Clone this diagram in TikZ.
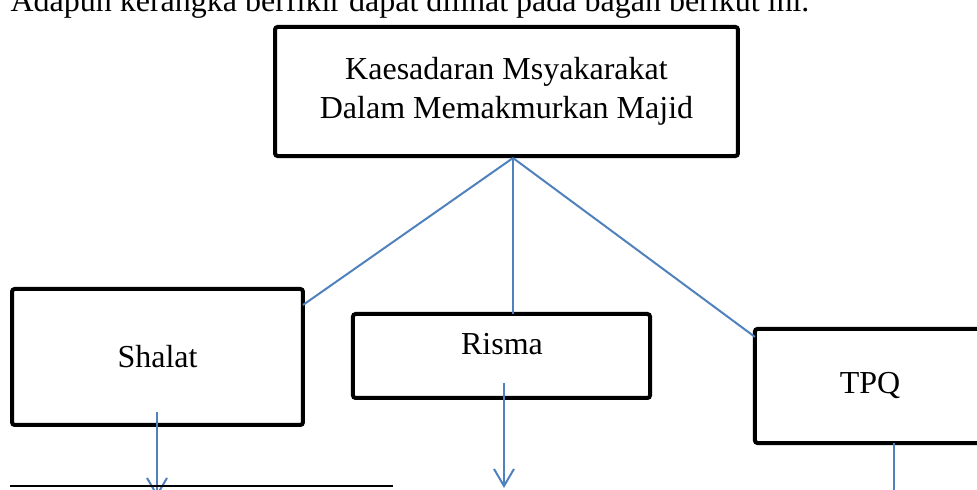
\documentclass[tikz,border=0pt]{standalone}
\usepackage{fontspec}
\setmainfont{Liberation Serif}
\usetikzlibrary{arrows.meta}
\definecolor{linkblue}{HTML}{4F81BD}

\begin{document}
\begin{tikzpicture}[x=0.375pt, y=-0.375pt,
    box/.style={draw, line width=1.5pt, rounded corners=1pt, inner sep=0pt, outer sep=0pt,
        font=\fontsize{12}{14.6}\selectfont, align=center},
    lbl/.style={font=\fontsize{12}{14.6}\selectfont, inner sep=0pt},
    link/.style={draw=linkblue, line width=0.75pt},
    arr/.style={link, -{Straight Barb[length=6.4pt, width=7.5pt]}}]

    % Page frame
    \useasboundingbox (0,0) rectangle (977,490);
    \clip (0,0) rectangle (977,490);

    % Sentence above the chart
    \node[lbl, anchor=base west] (intro) at (10,12)
        {Adapun kerangka berfikir dapat dilihat pada bagan berikut ini.};

    % Main box
    \node[box, minimum width=173.6pt, minimum height=48.4pt] (kesadaran) at (506.5,91.5)
        {Kaesadaran Msyakarakat\\Dalam Memakmurkan Majid};

    % Left box
    \node[box, minimum width=109.1pt, minimum height=51pt] (shalat) at (157.5,357) {Shalat};

    % Middle box
    \node[box, minimum width=111.4pt, minimum height=31.5pt] (risma) at (501.5,356) {};
    \node[lbl] (rismatxt) at (502,344) {Risma};

    % Right box
    \node[box, minimum width=86.3pt, minimum height=42.8pt] (tpq) at (870,386) {TPQ};

    % Lines from main box
    \coordinate (hub) at (513,158);
    \draw[link] (hub) -- ([yshift=-6pt]shalat.north east);
    \draw[link] (hub) -- (hub |- risma.north);
    \draw[link] (hub) -- ([yshift=-3pt]tpq.north west);

    % Lines going down
    \coordinate (shalatend) at (157,497);
    \coordinate (rismaend) at (504,488);
    \coordinate (tpqend) at (894,495);
    \draw[arr] (157,412) -- (shalatend);
    \draw[arr] (504,383) -- (rismaend);
    \draw[link] (tpqend |- tpq.south) -- (tpqend);

    % Rule under the chart
    \draw[line width=0.6pt] (10,486) -- (393,486);

\end{tikzpicture}
\end{document}
